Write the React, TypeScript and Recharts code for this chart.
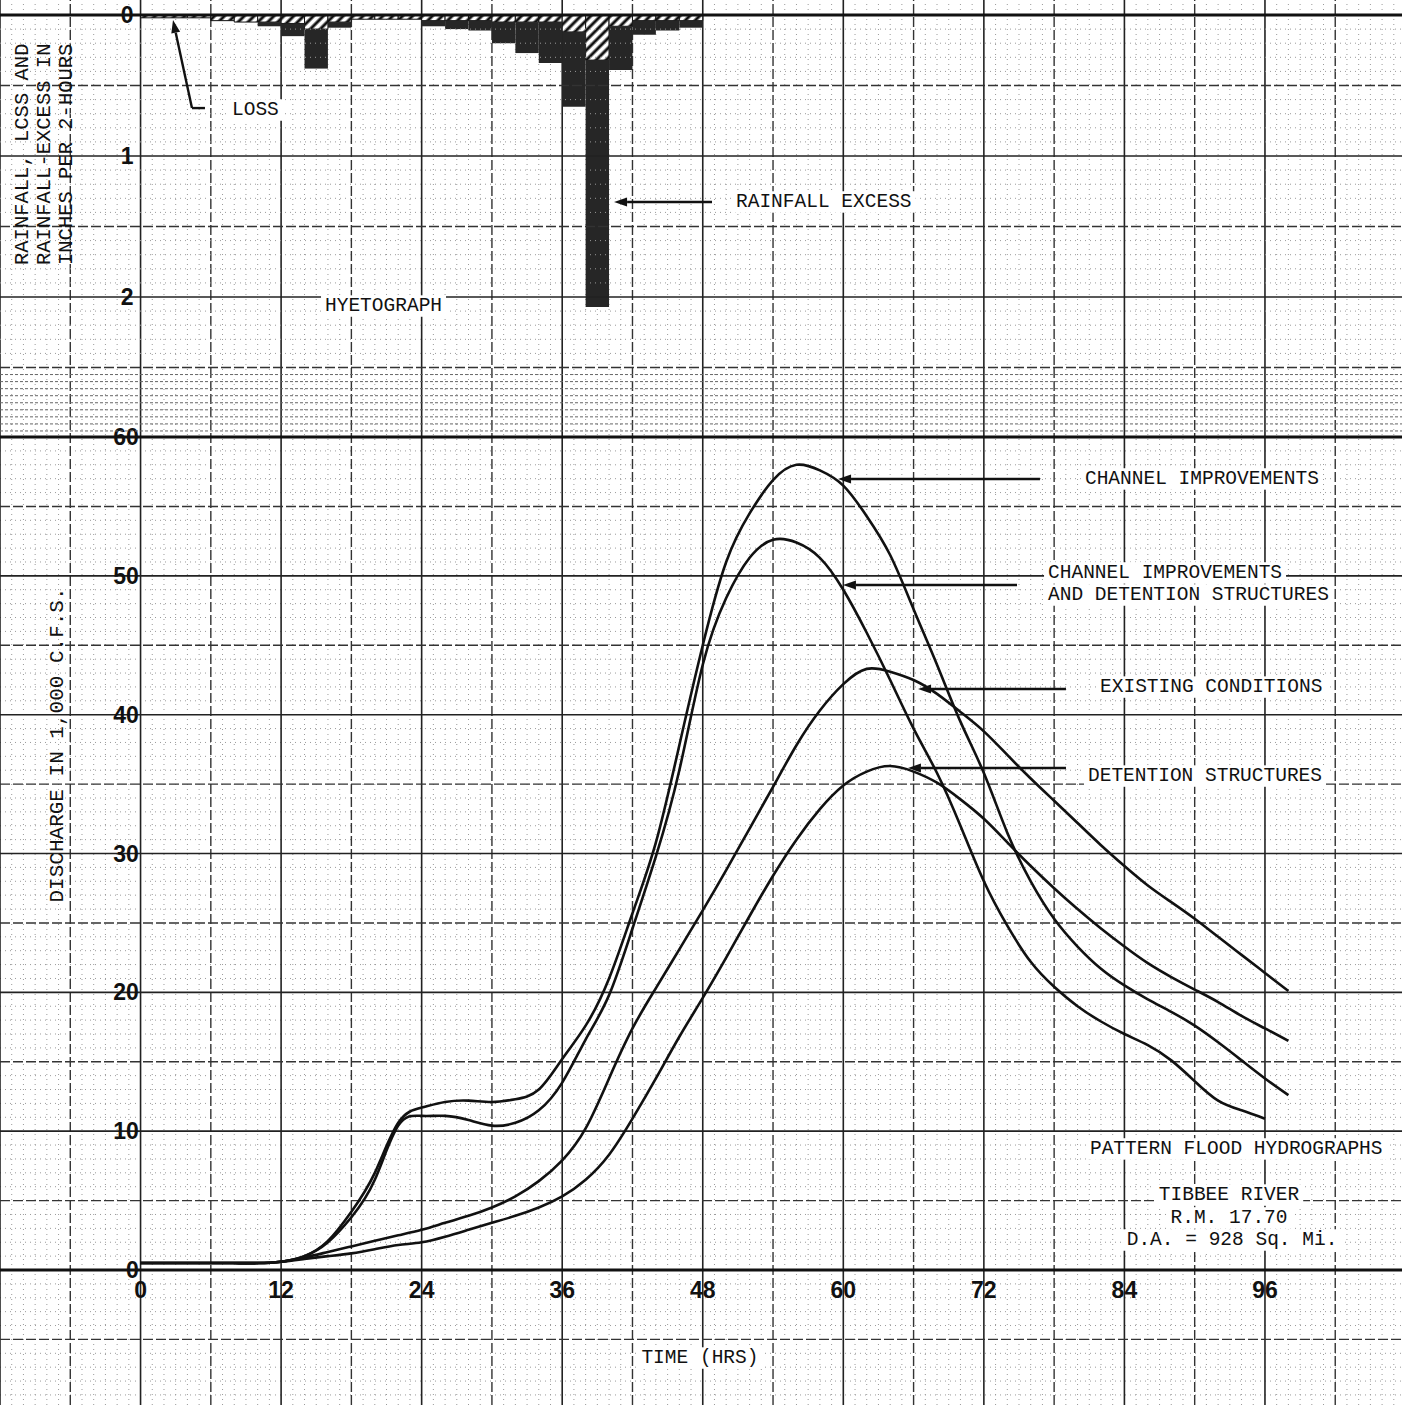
import React from "react";
import {
  Bar,
  ComposedChart,
  Line,
  ReferenceDot,
  ReferenceLine,
  XAxis,
  YAxis,
} from "recharts";

const W = 1402;
const H = 1405;
const MONO = "'Liberation Mono', 'DejaVu Sans Mono', monospace";
const SANS = "'Liberation Sans', Arial, sans-serif";
const INK = "#111";

// hydrographs, read every 2 hours (1,000 c.f.s.)
const HOURS = [
  0, 2, 4, 6, 8, 10, 12, 14, 16, 18, 20, 22, 24, 26, 28, 30, 32, 34, 36, 38, 40,
  42, 44, 46, 48, 50, 52, 54, 56, 58, 60, 62, 64, 66, 68, 70, 72, 74, 76, 78,
  80, 82, 84, 86, 88, 90, 92, 94, 96, 98,
];
const CHANNEL = [
  0.5, 0.5, 0.5, 0.5, 0.5, 0.5, 0.6, 1.0, 2.1, 4.2, 7.0, 10.6, 11.7, 12.1,
  12.2, 12.1, 12.3, 13.0, 15.2, 17.6, 21.0, 25.7, 30.8, 37.8, 45.0, 51.0, 54.5,
  56.9, 58.0, 57.6, 56.5, 54.3, 51.5, 47.6, 43.6, 39.5, 35.8, 31.5, 28.0, 25.3,
  23.3, 21.7, 20.5, 19.5, 18.6, 17.6, 16.4, 15.1, 13.8, 12.6,
];
const CHANNEL_DET = [
  0.5, 0.5, 0.5, 0.5, 0.5, 0.5, 0.6, 1.0, 2.0, 3.8, 6.5, 10.4, 11.1, 11.1,
  10.8, 10.4, 10.6, 11.5, 13.5, 16.6, 19.8, 24.6, 29.8, 36.0, 43.6, 48.4, 51.3,
  52.6, 52.4, 51.3, 49.0, 45.9, 42.5, 39.0, 35.8, 32.0, 28.0, 24.8, 22.2, 20.4,
  19.0, 17.9, 17.0, 16.2, 15.1, 13.6, 12.2, 11.5, 10.9, null,
];
const EXISTING = [
  0.5, 0.5, 0.5, 0.5, 0.5, 0.5, 0.6, 0.9, 1.3, 1.7, 2.1, 2.5, 2.9, 3.4, 3.9,
  4.5, 5.3, 6.4, 7.9, 10.2, 13.8, 17.4, 20.3, 23.1, 25.9, 28.8, 31.8, 34.8,
  37.8, 40.3, 42.2, 43.3, 43.1, 42.5, 41.5, 40.2, 38.8, 37.1, 35.4, 33.8, 32.2,
  30.6, 29.1, 27.7, 26.5, 25.3, 24.0, 22.7, 21.4, 20.1,
];
const DETENTION = [
  0.5, 0.5, 0.5, 0.5, 0.5, 0.5, 0.6, 0.8, 1.0, 1.2, 1.5, 1.8, 2.0, 2.4, 2.9,
  3.4, 3.9, 4.5, 5.3, 6.5, 8.3, 10.9, 13.8, 16.8, 19.6, 22.5, 25.5, 28.4, 31.0,
  33.2, 34.9, 35.9, 36.3, 35.9, 35.1, 33.9, 32.5, 30.8, 29.1, 27.5, 26.0, 24.6,
  23.3, 22.1, 21.1, 20.2, 19.3, 18.3, 17.4, 16.5,
];

// hyetograph, 2-hour blocks (inches), centred on the block
const RAIN_HOURS = [
  1, 3, 5, 7, 9, 11, 13, 15, 17, 19, 21, 23, 25, 27, 29, 31, 33, 35, 37, 39, 41,
  43, 45, 47,
];
const LOSS = [
  0.02, 0.02, 0.02, 0.04, 0.05, 0.05, 0.06, 0.1, 0.05, 0.03, 0.03, 0.03, 0.04,
  0.04, 0.04, 0.05, 0.05, 0.05, 0.12, 0.32, 0.08, 0.04, 0.04, 0.04,
];
const EXCESS = [
  0, 0, 0, 0, 0, 0.03, 0.09, 0.28, 0.04, 0, 0, 0, 0.04, 0.06, 0.07, 0.15, 0.22,
  0.29, 0.53, 1.75, 0.31, 0.1, 0.07, 0.05,
];

const X_TICKS = [0, 12, 24, 36, 48, 60, 72, 84, 96];
const Q_TICKS = [0, 10, 20, 30, 40, 50, 60];
const RAIN_TICKS = [0, 1, 2];

// axis domains chosen so the whole sheet is plot area
const X_DOMAIN = [-12, 107.7];
const Q_DOMAIN = [-9.724, 91.48];
const RAIN_DOMAIN = [-0.1064, 9.858];

// where the tick numbers sit (in axis units)
const X_LABEL_Q = -1.44;
const Q_LABEL_H = -0.15;
const RAIN_LABEL_H = -0.6;

const flowRows = HOURS.map((h, i) => ({
  h,
  ci: CHANNEL[i],
  cid: CHANNEL_DET[i],
  ec: EXISTING[i],
  ds: DETENTION[i],
}));
const rainRows = RAIN_HOURS.map((h, i) => ({ h, loss: LOSS[i], excess: EXCESS[i] }));

// graph paper
const range = (a: number, b: number, s: number) => {
  const out: number[] = [];
  for (let v = a; v <= b + 1e-9; v += s) out.push(Math.round(v * 100) / 100);
  return out;
};
const MAJOR_H = range(-12, 96, 12);
const HALF_H = range(-6, 102, 12);
const FINE_H = range(-11, 107, 1).filter((v) => v % 6 !== 0);
const Q_SOLID = [10, 20, 30, 40, 50];
const Q_DASH = [-5, 5, 15, 25, 35, 45, 55];
const Q_FINE = range(-9, 59, 1).filter((v) => v % 5 !== 0);
const R_SOLID = [1, 2];
const R_DASH = [0.5, 1.5, 2.5];
const R_FINE = range(0.1, 2.45, 0.1).filter((v) => Math.abs(v * 2 - Math.round(v * 2)) > 0.01);
const R_BAND = range(2.55, 2.95, 0.05);

const LOWER_NOTES = [
  { t: "CHANNEL IMPROVEMENTS", h: 80.63, y: 56.98, a: "start" },
  { t: "CHANNEL IMPROVEMENTS", h: 77.48, y: 50.21, a: "start" },
  { t: "AND DETENTION STRUCTURES", h: 77.48, y: 48.62, a: "start" },
  { t: "EXISTING CONDITIONS", h: 81.92, y: 41.99, a: "start" },
  { t: "DETENTION STRUCTURES", h: 80.89, y: 35.58, a: "start" },
  { t: "PATTERN FLOOD HYDROGRAPHS", h: 81.06, y: 8.72, a: "start" },
  { t: "TIBBEE RIVER", h: 92.93, y: 5.4, a: "middle" },
  { t: "R.M. 17.70", h: 92.93, y: 3.75, a: "middle" },
  { t: "D.A. = 928 Sq. Mi.", h: 93.19, y: 2.16, a: "middle" },
  { t: "TIME (HRS)", h: 47.76, y: -6.34, a: "middle" },
];
const LOWER_ARROWS = [
  [59.55, 56.98, 76.79, 56.98],
  [59.97, 49.34, 74.83, 49.34],
  [66.38, 41.85, 79.01, 41.85],
  [65.52, 36.16, 79.01, 36.16],
];
const UPPER_NOTES = [
  { t: "LOSS", h: 7.81, y: 0.674, a: "start" },
  { t: "RAINFALL EXCESS", h: 50.84, y: 1.326, a: "start" },
  { t: "HYETOGRAPH", h: 15.75, y: 2.064, a: "start" },
];
const RAIN_TITLE = [
  { t: "RAINFALL, LCSS AND", h: -10.04, y: 1.773 },
  { t: "RAINFALL-EXCESS IN", h: -8.16, y: 1.773 },
  { t: "INCHES PER 2-HOURS", h: -6.28, y: 1.773 },
];

const ArrowShape = (p: any) => {
  const { x1, y1, x2, y2 } = p;
  const dx = x2 - x1;
  const dy = y2 - y1;
  const len = Math.hypot(dx, dy) || 1;
  const ux = dx / len;
  const uy = dy / len;
  const bx = x1 + ux * 13;
  const by = y1 + uy * 13;
  return (
    <g>
      <line x1={bx} y1={by} x2={x2} y2={y2} stroke={INK} strokeWidth={2.4} />
      <path
        d={`M${x1},${y1} L${bx - uy * 4.5},${by + ux * 4.5} L${bx + uy * 4.5},${by - ux * 4.5} Z`}
        fill={INK}
      />
    </g>
  );
};

// typewritten note; flat notes get a white patch so the ruling stops at the words
const noteShape =
  (text: string, anchor: string, size = 19.5, rotate = false) =>
  (p: any) => {
    const w = text.length * size * 0.6;
    const left = anchor === "middle" ? p.cx - w / 2 : p.cx;
    return (
      <g>
        {!rotate && (
          <rect x={left - 4} y={p.cy - size * 0.55} width={w + 8} height={size * 1.1} fill="#fff" />
        )}
        <text
          x={p.cx}
          y={p.cy}
          textAnchor={anchor as any}
          dominantBaseline="central"
          fontFamily={MONO}
          fontSize={size}
          fill={INK}
          transform={rotate ? `rotate(-90 ${p.cx} ${p.cy})` : undefined}
        >
          {text}
        </text>
      </g>
    );
  };

const tickShape = (text: string, anchor: string) => (p: any) =>
  (
    <text
      x={p.cx}
      y={p.cy}
      textAnchor={anchor as any}
      dominantBaseline="central"
      fontFamily={SANS}
      fontWeight="bold"
      fontSize={23}
      fill={INK}
    >
      {text}
    </text>
  );

const fine = { stroke: "#9a9a9a", strokeWidth: 1, strokeDasharray: "1 4" };
const dashed = { stroke: "#333", strokeWidth: 1.4, strokeDasharray: "10 3" };
const solid = { stroke: "#222", strokeWidth: 1.6 };
const heavy = { stroke: "#111", strokeWidth: 3 };

export default function App() {
  return (
    <div
      style={{
        position: "absolute",
        left: 0,
        top: 0,
        width: W,
        height: H,
        background: "#fff",
        overflow: "hidden",
      }}
    >
      <div style={{ position: "absolute", left: 0, top: 0 }}>
        <ComposedChart width={W} height={H} data={flowRows} margin={{ top: 0, right: 0, bottom: 0, left: 0 }}>
          <XAxis dataKey="h" type="number" domain={X_DOMAIN} allowDataOverflow hide />
          <YAxis type="number" domain={Q_DOMAIN} allowDataOverflow hide />
          {FINE_H.map((h) => (
            <ReferenceLine key={`fh${h}`} x={h} {...fine} />
          ))}
          {Q_FINE.map((q) => (
            <ReferenceLine key={`fq${q}`} y={q} {...fine} />
          ))}
          {HALF_H.map((h) => (
            <ReferenceLine key={`hh${h}`} x={h} {...dashed} />
          ))}
          {MAJOR_H.map((h) => (
            <ReferenceLine key={`mh${h}`} x={h} {...solid} />
          ))}
          {Q_DASH.map((q) => (
            <ReferenceLine key={`dq${q}`} y={q} {...dashed} />
          ))}
          {Q_SOLID.map((q) => (
            <ReferenceLine key={`sq${q}`} y={q} {...solid} />
          ))}
          <ReferenceLine y={0} {...heavy} />
          <ReferenceLine y={60} {...heavy} />
          <Line dataKey="ci" type="natural" stroke={INK} strokeWidth={2.6} dot={false} isAnimationActive={false} />
          <Line dataKey="cid" type="natural" stroke={INK} strokeWidth={2.6} dot={false} isAnimationActive={false} />
          <Line dataKey="ec" type="natural" stroke={INK} strokeWidth={2.6} dot={false} isAnimationActive={false} />
          <Line dataKey="ds" type="natural" stroke={INK} strokeWidth={2.6} dot={false} isAnimationActive={false} />
          {LOWER_ARROWS.map((a, i) => (
            <ReferenceLine
              key={`la${i}`}
              segment={[
                { x: a[0], y: a[1] },
                { x: a[2], y: a[3] },
              ]}
              shape={ArrowShape}
            />
          ))}
          {X_TICKS.map((v) => (
            <ReferenceDot key={`xt${v}`} x={v} y={X_LABEL_Q} r={0} shape={tickShape(String(v), "middle")} />
          ))}
          {Q_TICKS.map((v) => (
            <ReferenceDot key={`qt${v}`} x={Q_LABEL_H} y={v} r={0} shape={tickShape(String(v), "end")} />
          ))}
          {LOWER_NOTES.map((n, i) => (
            <ReferenceDot key={`ln${i}`} x={n.h} y={n.y} r={0} shape={noteShape(n.t, n.a)} />
          ))}
          <ReferenceDot x={-7.13} y={37.82} r={0} shape={noteShape("DISCHARGE IN 1,000 C.F.S.", "middle", 21, true)} />
        </ComposedChart>
      </div>
      <div style={{ position: "absolute", left: 0, top: 0 }}>
        <ComposedChart
          width={W}
          height={H}
          data={rainRows}
          margin={{ top: 0, right: 0, bottom: 0, left: 0 }}
          barGap={0}
          barCategoryGap={0}
        >
          <defs>
            <pattern id="lossHatch" patternUnits="userSpaceOnUse" width={7} height={7} patternTransform="rotate(45)">
              <rect width={7} height={7} fill="#fff" />
              <line x1={2} y1={0} x2={2} y2={7} stroke={INK} strokeWidth={3} />
            </pattern>
          </defs>
          <XAxis dataKey="h" type="number" domain={X_DOMAIN} allowDataOverflow hide />
          <YAxis type="number" reversed domain={RAIN_DOMAIN} allowDataOverflow hide />
          {R_FINE.map((r) => (
            <ReferenceLine key={`fr${r}`} y={r} {...fine} />
          ))}
          {R_BAND.map((r) => (
            <ReferenceLine key={`br${r}`} y={r} stroke="#666" strokeWidth={1} strokeDasharray="3 2" />
          ))}
          {R_DASH.map((r) => (
            <ReferenceLine key={`dr${r}`} y={r} {...dashed} />
          ))}
          {R_SOLID.map((r) => (
            <ReferenceLine key={`sr${r}`} y={r} {...solid} />
          ))}
          <Bar dataKey="loss" stackId="r" barSize={23.4} fill="url(#lossHatch)" stroke={INK} strokeWidth={1} isAnimationActive={false} />
          <Bar dataKey="excess" stackId="r" barSize={23.4} fill="#262626" isAnimationActive={false} />
          <ReferenceLine y={0} {...heavy} />
          <ReferenceLine
            segment={[
              { x: 2.77, y: 0.035 },
              { x: 4.39, y: 0.66 },
            ]}
            shape={ArrowShape}
          />
          <ReferenceLine
            segment={[
              { x: 4.39, y: 0.66 },
              { x: 5.5, y: 0.66 },
            ]}
            stroke={INK}
            strokeWidth={2.4}
          />
          <ReferenceLine
            segment={[
              { x: 40.43, y: 1.326 },
              { x: 48.79, y: 1.326 },
            ]}
            shape={ArrowShape}
          />
          {RAIN_TICKS.map((v) => (
            <ReferenceDot key={`rt${v}`} x={RAIN_LABEL_H} y={v} r={0} shape={tickShape(String(v), "end")} />
          ))}
          {UPPER_NOTES.map((n, i) => (
            <ReferenceDot key={`un${i}`} x={n.h} y={n.y} r={0} shape={noteShape(n.t, n.a)} />
          ))}
          {RAIN_TITLE.map((n, i) => (
            <ReferenceDot key={`rtt${i}`} x={n.h} y={n.y} r={0} shape={noteShape(n.t, "start", 20.5, true)} />
          ))}
        </ComposedChart>
      </div>
    </div>
  );
}
